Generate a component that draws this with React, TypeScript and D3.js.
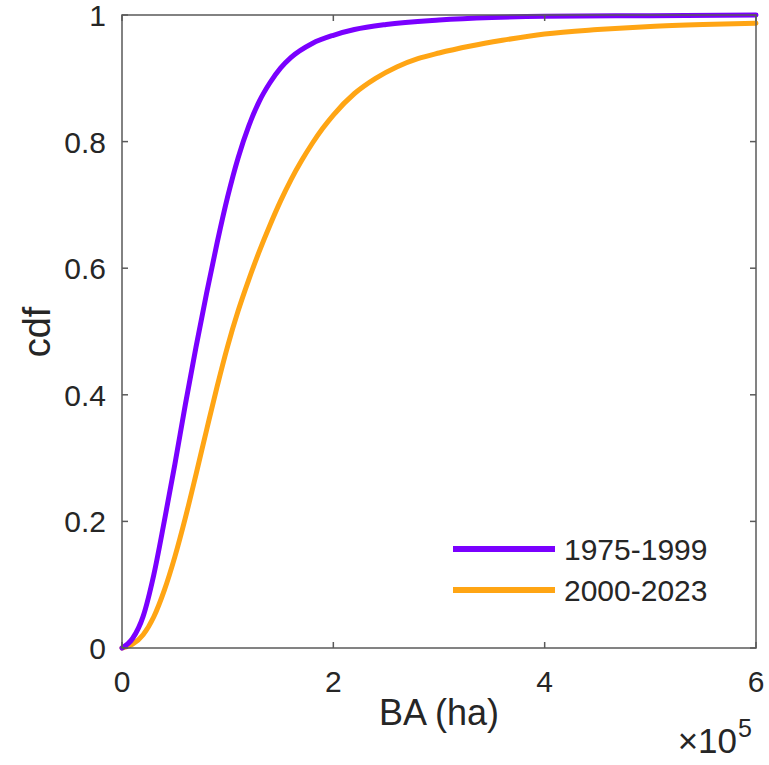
import React from "react";
import * as d3 from "d3";

const seriesNames = ["1975-1999", "2000-2023"];
const seriesColors = ["#7a00ff", "#ffa514"];

// BA in units of 1e5 ha, cdf values
const purpleX = [0, 0.1, 0.2, 0.3, 0.4, 0.5, 0.6, 0.7, 0.8, 0.9, 1.0, 1.1, 1.2, 1.3, 1.4, 1.5, 1.6, 1.8, 2.0, 2.2, 2.5, 3.0, 3.5, 4.0, 5.0, 6.0];
const purpleY = [0, 0.015, 0.05, 0.115, 0.2, 0.29, 0.385, 0.475, 0.56, 0.64, 0.713, 0.775, 0.825, 0.864, 0.893, 0.916, 0.933, 0.955, 0.968, 0.977, 0.985, 0.992, 0.996, 0.998, 0.999, 1.0];

const orangeX = [0, 0.1, 0.2, 0.3, 0.4, 0.5, 0.6, 0.7, 0.8, 0.9, 1.0, 1.1, 1.2, 1.3, 1.4, 1.5, 1.6, 1.7, 1.8, 1.9, 2.0, 2.2, 2.4, 2.6, 2.8, 3.0, 3.3, 3.6, 4.0, 4.5, 5.0, 5.5, 6.0];
const orangeY = [0, 0.006, 0.021, 0.049, 0.091, 0.144, 0.206, 0.274, 0.344, 0.413, 0.477, 0.533, 0.582, 0.627, 0.668, 0.706, 0.74, 0.77, 0.797, 0.821, 0.842, 0.876, 0.9, 0.918, 0.931, 0.94, 0.951, 0.96, 0.97, 0.977, 0.982, 0.985, 0.987];

const xTicks = [0, 2, 4, 6];
const yTicks = [0, 0.2, 0.4, 0.6, 0.8, 1];

export default function App() {
  const W = 769, H = 765;
  const left = 122, right = 756, top = 15, bottom = 648;
  const x = d3.scaleLinear().domain([0, 6]).range([left, right]);
  const y = d3.scaleLinear().domain([0, 1]).range([bottom, top]);
  const line = d3.line<[number, number]>().x(d => x(d[0])).y(d => y(d[1])).curve(d3.curveMonotoneX);
  const series = [
    purpleX.map((v, i) => [v, purpleY[i]] as [number, number]),
    orangeX.map((v, i) => [v, orangeY[i]] as [number, number]),
  ];
  const font = "'Liberation Sans', Arial, sans-serif";
  const txt = "#262626";
  const axisCol = "#5a5a5a";
  const tl = 6;
  return (
    <svg width={W} height={H} style={{ position: "absolute", left: 0, top: 0, background: "#fff" }} fontFamily={font}>
      <rect x={0} y={0} width={W} height={H} fill="#fff" />
      {[1, 0].map(i => (
        <path key={i} d={line(series[i]) || ""} fill="none" stroke={seriesColors[i]} strokeWidth={5} strokeLinejoin="round" strokeLinecap="round" />
      ))}
      <rect x={left} y={top} width={right - left} height={bottom - top} fill="none" stroke={axisCol} strokeWidth={1.5} />
      {xTicks.map(t => (
        <g key={"x" + t}>
          <line x1={x(t)} x2={x(t)} y1={bottom} y2={bottom - tl} stroke={axisCol} strokeWidth={1.5} />
          <line x1={x(t)} x2={x(t)} y1={top} y2={top + tl} stroke={axisCol} strokeWidth={1.5} />
          <text x={x(t)} y={bottom + 44} textAnchor="middle" fontSize={30} fill={txt}>{t}</text>
        </g>
      ))}
      {yTicks.map(t => (
        <g key={"y" + t}>
          <line x1={left} x2={left + tl} y1={y(t)} y2={y(t)} stroke={axisCol} strokeWidth={1.5} />
          <line x1={right} x2={right - tl} y1={y(t)} y2={y(t)} stroke={axisCol} strokeWidth={1.5} />
          <text x={left - 16} y={y(t) + 11} textAnchor="end" fontSize={30} fill={txt}>{t}</text>
        </g>
      ))}
      <text x={439} y={725} textAnchor="middle" fontSize={36} fill={txt}>BA (ha)</text>
      <text transform={`translate(50,332) rotate(-90)`} textAnchor="middle" fontSize={38} fill={txt}>cdf</text>
      <text x={737} y={753} textAnchor="end" fontSize={35} fill={txt}>×10</text>
      <text x={738} y={737} textAnchor="start" fontSize={25} fill={txt}>5</text>
      {seriesNames.map((n, i) => (
        <g key={n}>
          <line x1={453} x2={555} y1={549 + i * 41} y2={549 + i * 41} stroke={seriesColors[i]} strokeWidth={6} />
          <text x={564} y={549 + i * 41 + 11} fontSize={30} fill={txt}>{n}</text>
        </g>
      ))}
    </svg>
  );
}
